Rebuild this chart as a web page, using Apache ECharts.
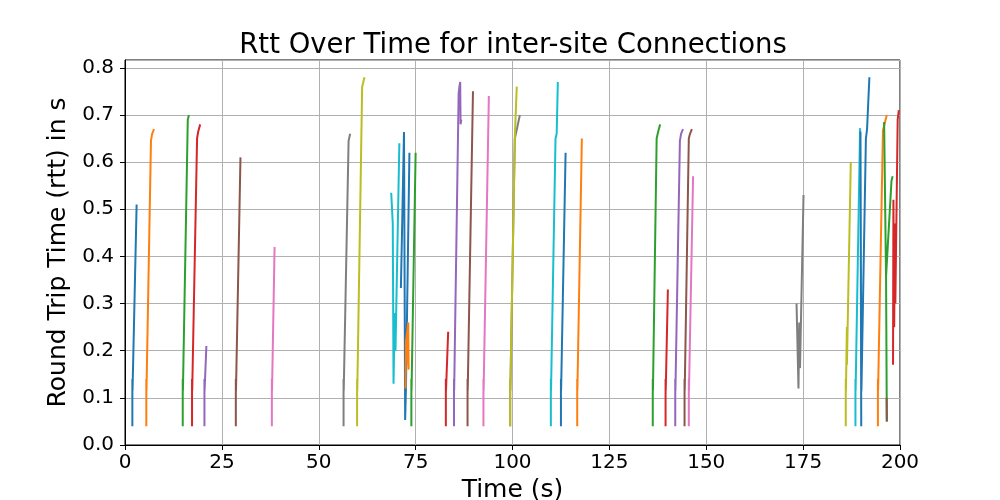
<!DOCTYPE html>
<html>
<head>
<meta charset="utf-8">
<script src="https://cdn.jsdelivr.net/npm/echarts@6/dist/echarts.min.js"></script>
<style>
    html, body { margin: 0; padding: 0; background: #fff; }
    #chart { width: 1000px; height: 500px; }
</style>
</head>
<body>
<div id="chart"></div>
<script>
// matplotlib default colour cycle
const palette = ['#1f77b4', '#ff7f0e', '#2ca02c', '#d62728', '#9467bd',
    '#8c564b', '#e377c2', '#7f7f7f', '#bcbd22', '#17becf'];

const xTicks = [0, 25, 50, 75, 100, 125, 150, 175, 200];
const yTicks = [0.0, 0.1, 0.2, 0.3, 0.4, 0.5, 0.6, 0.7, 0.8];

// one array per connection: [time (s), rtt (s)]
const conn01 = [[1.9, 0.04], [1.9, 0.14], [1.9, 0.113], [1.5, 0.113], [1.95, 0.118], [3.0, 0.51]];
const conn02 = [[5.5, 0.04], [5.5, 0.14], [5.5, 0.113], [5.1, 0.113], [5.55, 0.118], [6.7, 0.645], [7.0, 0.66], [7.5, 0.67]];
const conn03 = [[14.9, 0.04], [14.9, 0.14], [14.9, 0.113], [14.5, 0.113], [14.95, 0.118], [16.2, 0.69], [16.5, 0.70]];
const conn04 = [[17.3, 0.04], [17.3, 0.14], [17.3, 0.113], [16.9, 0.113], [17.35, 0.118], [18.6, 0.65], [18.9, 0.665], [19.4, 0.68]];
const conn05 = [[20.5, 0.04], [20.5, 0.14], [20.5, 0.113], [20.1, 0.113], [20.55, 0.118], [21.0, 0.21]];
const conn06 = [[28.6, 0.04], [28.6, 0.14], [28.6, 0.113], [28.2, 0.113], [28.65, 0.118], [29.8, 0.61]];
const conn07 = [[37.9, 0.04], [37.9, 0.14], [37.9, 0.113], [37.5, 0.113], [37.95, 0.118], [38.6, 0.42]];
const conn08 = [[56.4, 0.04], [56.4, 0.14], [56.4, 0.113], [56.0, 0.113], [56.45, 0.118], [57.7, 0.645], [58.1, 0.66]];
const conn09 = [[59.9, 0.04], [59.9, 0.14], [59.9, 0.113], [59.5, 0.113], [59.95, 0.118], [61.2, 0.76], [61.8, 0.78]];
const conn10 = [[68.7, 0.535], [69.1, 0.47], [69.3, 0.13], [69.6, 0.28], [69.8, 0.20], [70.8, 0.64]];
const conn11 = [[71.2, 0.333], [72.0, 0.664], [72.3, 0.053], [72.5, 0.12], [73.4, 0.62]];
const conn12 = [[72.4, 0.12], [72.5, 0.22], [73.1, 0.26], [73.2, 0.16], [72.8, 0.20], [73.1, 0.24]];
const conn13 = [[73.9, 0.04], [73.9, 0.14], [73.9, 0.113], [73.5, 0.113], [73.95, 0.118], [75.0, 0.62]];
const conn14 = [[82.8, 0.04], [82.8, 0.14], [82.8, 0.113], [82.4, 0.113], [82.85, 0.118], [83.4, 0.24]];
const conn15 = [[84.9, 0.04], [84.9, 0.14], [84.9, 0.113], [84.5, 0.113], [84.95, 0.118], [86.1, 0.745], [86.3, 0.76], [86.5, 0.77], [86.6, 0.68], [86.8, 0.69]];
const conn16 = [[88.4, 0.04], [88.4, 0.14], [88.4, 0.113], [88.0, 0.113], [88.45, 0.118], [89.8, 0.75]];
const conn17 = [[92.5, 0.04], [92.5, 0.14], [92.5, 0.113], [92.1, 0.113], [92.55, 0.118], [93.9, 0.74]];
const conn18 = [[99.4, 0.04], [99.4, 0.14], [99.4, 0.113], [99.0, 0.113], [99.45, 0.118], [100.6, 0.65], [101.0, 0.665], [101.9, 0.70]];
const conn19 = [[99.4, 0.04], [99.4, 0.14], [99.4, 0.113], [99.0, 0.113], [99.45, 0.118], [100.6, 0.653], [101.1, 0.76]];
const conn20 = [[109.9, 0.04], [109.9, 0.14], [109.9, 0.113], [109.5, 0.113], [109.95, 0.118], [111.1, 0.65], [111.4, 0.66], [111.7, 0.77]];
const conn21 = [[112.5, 0.04], [112.5, 0.14], [112.5, 0.113], [112.1, 0.113], [112.55, 0.118], [113.7, 0.62]];
const conn22 = [[116.7, 0.04], [116.7, 0.14], [116.7, 0.113], [116.3, 0.113], [116.75, 0.118], [117.9, 0.65]];
const conn23 = [[136.2, 0.04], [136.2, 0.14], [136.2, 0.113], [135.8, 0.113], [136.25, 0.118], [137.2, 0.65], [137.6, 0.665], [138.1, 0.68]];
const conn24 = [[139.5, 0.04], [139.5, 0.14], [139.5, 0.113], [139.1, 0.113], [139.55, 0.118], [140.1, 0.33]];
const conn25 = [[142.0, 0.04], [142.0, 0.14], [142.0, 0.113], [141.6, 0.113], [142.05, 0.118], [143.2, 0.645], [143.5, 0.66], [144.0, 0.67]];
const conn26 = [[144.4, 0.04], [144.4, 0.14], [144.4, 0.113], [144.0, 0.113], [144.45, 0.118], [145.5, 0.65], [145.8, 0.66], [146.3, 0.67]];
const conn27 = [[145.5, 0.04], [145.5, 0.14], [145.5, 0.113], [145.1, 0.113], [145.55, 0.118], [146.6, 0.57]];
const conn28 = [[173.3, 0.30], [173.8, 0.12], [174.0, 0.26], [174.2, 0.163], [175.1, 0.53]];
const conn29 = [[186.0, 0.04], [186.0, 0.14], [186.0, 0.113], [185.6, 0.113], [186.05, 0.118], [186.3, 0.25], [186.3, 0.17], [187.3, 0.60]];
const conn30 = [[188.5, 0.04], [188.5, 0.14], [188.5, 0.113], [188.1, 0.113], [188.55, 0.118], [189.7, 0.672]];
const conn31 = [[190.0, 0.04], [189.8, 0.665], [190.0, 0.14], [190.0, 0.113], [189.6, 0.113], [190.05, 0.118], [191.2, 0.65], [191.5, 0.67], [192.1, 0.78]];
const conn32 = [[194.3, 0.04], [194.3, 0.14], [194.3, 0.113], [193.9, 0.113], [194.35, 0.118], [195.6, 0.667], [196.0, 0.68], [196.6, 0.70]];
const conn33 = [[195.9, 0.685], [196.4, 0.357], [196.6, 0.05], [196.4, 0.357], [197.8, 0.56], [198.1, 0.57]];
const conn34 = [[198.2, 0.17], [198.3, 0.52], [198.5, 0.25], [198.7, 0.47], [198.8, 0.30], [199.4, 0.69], [199.7, 0.71]];
const conn35 = [[196.6, 0.05], [196.55, 0.10]];

const connections = [conn01, conn02, conn03, conn04, conn05, conn06, conn07, conn08, conn09, conn10,
    conn11, conn12, conn13, conn14, conn15, conn16, conn17, conn18, conn19, conn20,
    conn21, conn22, conn23, conn24, conn25, conn26, conn27, conn28, conn29, conn30,
    conn31, conn32, conn33, conn34, conn35];

const font = 'DejaVu Sans';

(function () {
    let chart = echarts.init(document.getElementById('chart'), null, { renderer: 'canvas' })

    let series = connections.map((pts, i) => ({
        type: 'line',
        data: pts,
        showSymbol: false,
        symbol: 'none',
        clip: true,
        lineStyle: {
            width: 2,
            // last short piece is drawn in brown in the reference
            color: i === 34 ? palette[5] : palette[i % palette.length]
        },
        z: 3
    }))

    let option = {
        animation: false,
        backgroundColor: '#fff',
        title: {
            text: 'Rtt Over Time for inter-site Connections',
            left: 508,
            textAlign: 'center',
            top: 27,
            textStyle: {
                fontFamily: font,
                fontSize: 27.5,
                fontWeight: 'normal',
                color: '#000'
            }
        },
        grid: {
            left: 125,
            right: 100,
            top: 60,
            bottom: 55,
            outerBoundsMode: 'none',
            containLabel: false,
            show: true,
            borderColor: '#000',
            borderWidth: 1,
            backgroundColor: 'transparent'
        },
        xAxis: {
            type: 'value',
            min: 0,
            max: 200,
            interval: 25,
            name: 'Time (s)',
            nameLocation: 'middle',
            nameGap: 31,
            nameTextStyle: { fontFamily: font, fontSize: 25, color: '#000' },
            axisLine: { show: true, lineStyle: { color: '#000', width: 1 } },
            axisTick: { show: true, inside: false, length: 5, lineStyle: { color: '#000' } },
            axisLabel: {
                fontFamily: font,
                fontSize: 20,
                color: '#000',
                margin: 8,
                formatter: v => xTicks.includes(v) ? String(v) : ''
            },
            splitLine: { show: true, lineStyle: { color: '#b0b0b0', width: 1 } }
        },
        yAxis: {
            type: 'value',
            min: 0,
            max: 0.8165,
            interval: 0.1,
            name: 'Round Trip Time (rtt) in s',
            nameLocation: 'middle',
            nameGap: 43,
            nameTextStyle: { fontFamily: font, fontSize: 25, color: '#000' },
            axisLine: { show: true, lineStyle: { color: '#000', width: 1 } },
            axisTick: { show: true, inside: false, length: 5, lineStyle: { color: '#000' } },
            axisLabel: {
                fontFamily: font,
                fontSize: 20,
                color: '#000',
                margin: 11,
                showMaxLabel: false,
                formatter: function (v) {
                    let hit = yTicks.find(t => Math.abs(t - v) < 1e-6)
                    return hit === undefined ? '' : hit.toFixed(1)
                }
            },
            splitLine: { show: true, lineStyle: { color: '#b0b0b0', width: 1 } }
        },
        series: series
    }
    chart.setOption(option)
})();
</script>
</body>
</html>
